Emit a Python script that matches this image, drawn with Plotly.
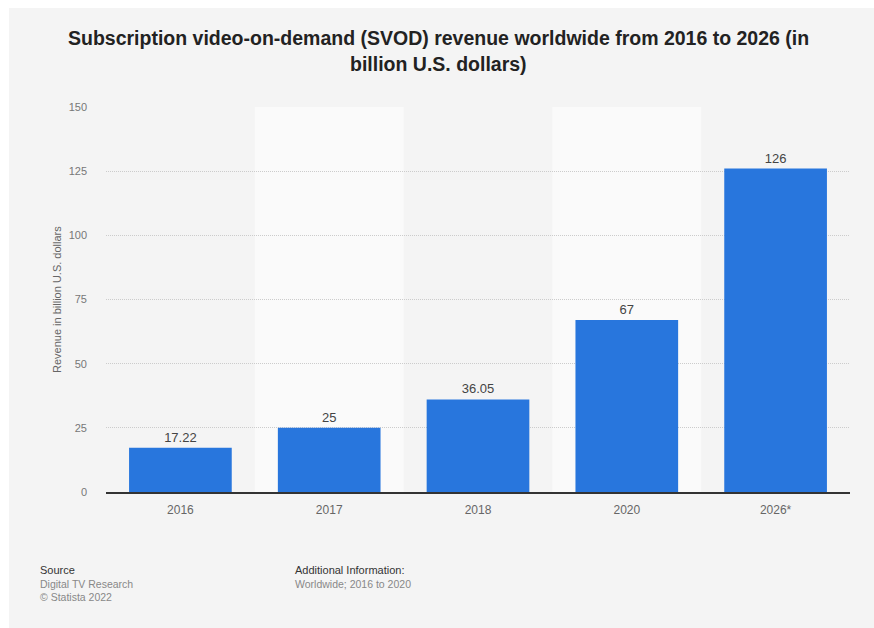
import plotly.graph_objects as go

categories = ["2016", "2017", "2018", "2020", "2026*"]
revenue = [17.22, 25, 36.05, 67, 126]
value_labels = ["17.22", "25", "36.05", "67", "126"]
y_ticks = [0, 25, 50, 75, 100, 125, 150]

W, H = 874, 628
L, R, T, B = 106, 24, 107, 136
PW, PH = W - L - R, H - T - B

def px(x):
    return (x - L) / PW

def py(y):
    return (H - B - y) / PH

fig = go.Figure()
fig.add_trace(go.Bar(
    x=categories, y=revenue, text=value_labels, textposition="outside",
    textfont=dict(family="Liberation Sans, Arial, sans-serif", size=13, color="#444444"),
    marker=dict(color="#2876dd", line=dict(width=0)),
    cliponaxis=False, hoverinfo="x+y",
))

shapes = []
# lighter alternating columns
for i in range(len(categories)):
    if i % 2 == 1:
        shapes.append(dict(type="rect", xref="x", yref="paper", x0=i - 0.5, x1=i + 0.5,
                           y0=0, y1=1, fillcolor="#fafafa", line=dict(width=0), layer="below"))
# white page edges
shapes.append(dict(type="rect", xref="paper", yref="paper", x0=px(0), x1=px(9), y0=py(H), y1=py(0),
                   fillcolor="white", line=dict(width=0), layer="below"))
shapes.append(dict(type="rect", xref="paper", yref="paper", x0=px(0), x1=px(W), y0=py(8), y1=py(0),
                   fillcolor="white", line=dict(width=0), layer="below"))

font = "Liberation Sans, Arial, sans-serif"
annotations = [
    dict(text="<b>Subscription video-on-demand (SVOD) revenue worldwide from 2016 to 2026 (in</b>",
         x=px(438), y=py(38), xref="paper", yref="paper", showarrow=False,
         xanchor="center", yanchor="middle", font=dict(family=font, size=19.5, color="#222222")),
    dict(text="<b>billion U.S. dollars)</b>",
         x=px(438), y=py(64), xref="paper", yref="paper", showarrow=False,
         xanchor="center", yanchor="middle", font=dict(family=font, size=19.5, color="#222222")),
    dict(text="Source", x=px(38), y=py(570), xref="paper", yref="paper", showarrow=False,
         xanchor="left", yanchor="middle", font=dict(family=font, size=11, color="#333333")),
    dict(text="Digital TV Research", x=px(38), y=py(584), xref="paper", yref="paper", showarrow=False,
         xanchor="left", yanchor="middle", font=dict(family=font, size=10.5, color="#888888")),
    dict(text="© Statista 2022", x=px(38), y=py(597), xref="paper", yref="paper", showarrow=False,
         xanchor="left", yanchor="middle", font=dict(family=font, size=10.5, color="#888888")),
    dict(text="Additional Information:", x=px(293), y=py(570), xref="paper", yref="paper", showarrow=False,
         xanchor="left", yanchor="middle", font=dict(family=font, size=11, color="#333333")),
    dict(text="Worldwide; 2016 to 2020", x=px(293), y=py(584), xref="paper", yref="paper", showarrow=False,
         xanchor="left", yanchor="middle", font=dict(family=font, size=10.5, color="#888888")),
    dict(text="Revenue in billion U.S. dollars", x=px(57), y=py(300), xref="paper", yref="paper",
         showarrow=False, textangle=-90, xanchor="center", yanchor="middle",
         font=dict(family=font, size=11, color="#666666")),
]

fig.update_layout(
    width=W, height=H, margin=dict(l=L, r=R, t=T, b=B, pad=0),
    paper_bgcolor="#f4f4f4", plot_bgcolor="#f4f4f4",
    bargap=0.31, showlegend=False,
    shapes=shapes, annotations=annotations,
    font=dict(family=font),
)
fig.update_xaxes(
    type="category", range=[-0.5, len(categories) - 0.5], showgrid=False,
    showline=True, linecolor="#333333", linewidth=1.5,
    tickfont=dict(family=font, size=12, color="#666666"), ticks="", ticklabelstandoff=6,
)
fig.update_yaxes(
    range=[0, 150], tickvals=y_ticks, showgrid=True, gridcolor="#cccccc", griddash="1px,1px",
    gridwidth=1, zeroline=False, showline=False,
    tickfont=dict(family=font, size=11, color="#777777"), ticks="", ticklabelstandoff=18,
)
fig.write_html("out.html")
